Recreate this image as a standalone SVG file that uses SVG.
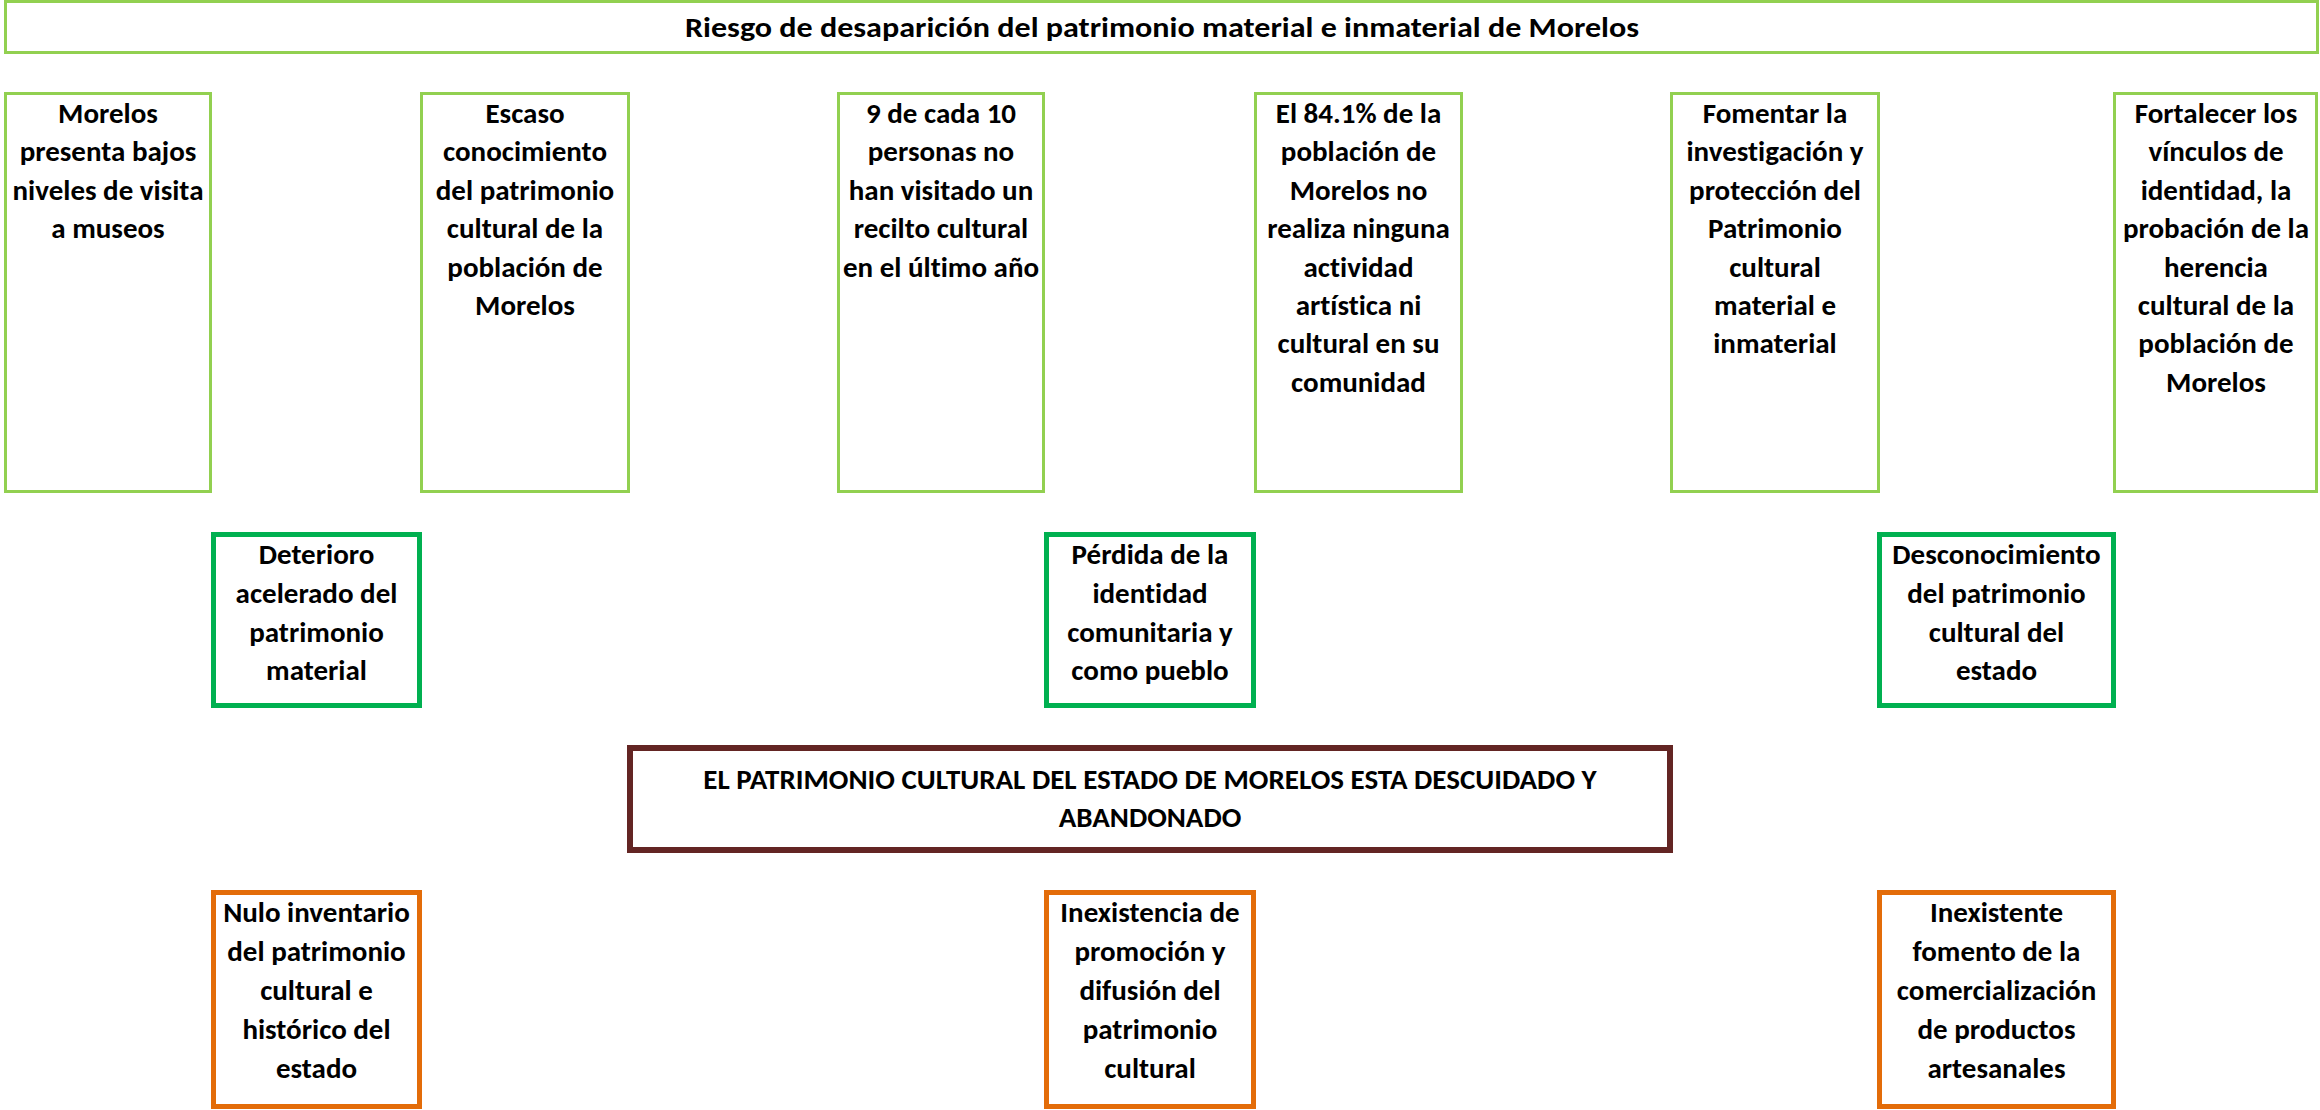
<svg xmlns="http://www.w3.org/2000/svg" width="2320" height="1110" viewBox="0 0 2320 1110">
<style>
text{font-family:"Carlito","Liberation Sans Narrow","Lato",sans-serif;font-weight:bold;font-size:29px;fill:#000;text-anchor:middle;font-variant-ligatures:none;font-feature-settings:"liga" 0,"clig" 0}
.lg{fill:#fff;stroke:#92D050;stroke-width:3}
.dg{fill:#fff;stroke:#00B050;stroke-width:5}
.rd{fill:#fff;stroke:#632523;stroke-width:6}
.or{fill:#fff;stroke:#E36C09;stroke-width:5}
</style>
<rect width="2320" height="1110" fill="#fff"/>
<g id="title">
<rect class="lg" x="5.5" y="1.5" width="2312" height="51"/>
<text x="1162" y="37" textLength="954" lengthAdjust="spacingAndGlyphs">Riesgo de desaparición del patrimonio material e inmaterial de Morelos</text>
</g>
<g id="t1">
<rect class="lg" x="5.5" y="93.5" width="205" height="398"/>
<text x="108" y="123">Morelos</text><text x="108" y="161.4">presenta bajos</text><text x="108" y="199.8">niveles de visita</text><text x="108" y="238.2">a museos</text>
</g>
<g id="t2">
<rect class="lg" x="421.5" y="93.5" width="207" height="398"/>
<text x="525" y="123">Escaso</text><text x="525" y="161.4">conocimiento</text><text x="525" y="199.8">del patrimonio</text><text x="525" y="238.2">cultural de la</text><text x="525" y="276.6">población de</text><text x="525" y="315">Morelos</text>
</g>
<g id="t3">
<rect class="lg" x="838.5" y="93.5" width="205" height="398"/>
<text x="941" y="123">9 de cada 10</text><text x="941" y="161.4">personas no</text><text x="941" y="199.8">han visitado un</text><text x="941" y="238.2">recilto cultural</text><text x="941" y="276.6">en el último año</text>
</g>
<g id="t4">
<rect class="lg" x="1255.5" y="93.5" width="206" height="398"/>
<text x="1358.5" y="123">El 84.1% de la</text><text x="1358.5" y="161.4">población de</text><text x="1358.5" y="199.8">Morelos no</text><text x="1358.5" y="238.2">realiza ninguna</text><text x="1358.5" y="276.6">actividad</text><text x="1358.5" y="315">artística ni</text><text x="1358.5" y="353.4">cultural en su</text><text x="1358.5" y="391.8">comunidad</text>
</g>
<g id="t5">
<rect class="lg" x="1671.5" y="93.5" width="207" height="398"/>
<text x="1775" y="123">Fomentar la</text><text x="1775" y="161.4">investigación y</text><text x="1775" y="199.8">protección del</text><text x="1775" y="238.2">Patrimonio</text><text x="1775" y="276.6">cultural</text><text x="1775" y="315">material e</text><text x="1775" y="353.4">inmaterial</text>
</g>
<g id="t6">
<rect class="lg" x="2114.5" y="93.5" width="202" height="398"/>
<text x="2216" y="123">Fortalecer los</text><text x="2216" y="161.4">vínculos de</text><text x="2216" y="199.8">identidad, la</text><text x="2216" y="238.2">probación de la</text><text x="2216" y="276.6">herencia</text><text x="2216" y="315">cultural de la</text><text x="2216" y="353.4">población de</text><text x="2216" y="391.8">Morelos</text>
</g>
<g id="m1">
<rect class="dg" x="213.5" y="534.5" width="206" height="171"/>
<text x="316.5" y="564">Deterioro</text><text x="316.5" y="602.8">acelerado del</text><text x="316.5" y="641.6">patrimonio</text><text x="316.5" y="680.4">material</text>
</g>
<g id="m2">
<rect class="dg" x="1046.5" y="534.5" width="207" height="171"/>
<text x="1150" y="564">Pérdida de la</text><text x="1150" y="602.8">identidad</text><text x="1150" y="641.6">comunitaria y</text><text x="1150" y="680.4">como pueblo</text>
</g>
<g id="m3">
<rect class="dg" x="1879.5" y="534.5" width="234" height="171"/>
<text x="1996.5" y="564">Desconocimiento</text><text x="1996.5" y="602.8">del patrimonio</text><text x="1996.5" y="641.6">cultural del</text><text x="1996.5" y="680.4">estado</text>
</g>
<g id="core">
<rect class="rd" x="630" y="748" width="1040" height="102"/>
<text x="1150" y="789">EL PATRIMONIO CULTURAL DEL ESTADO DE MORELOS ESTA DESCUIDADO Y</text><text x="1150" y="827">ABANDONADO</text>
</g>
<g id="b1">
<rect class="or" x="213.5" y="892.5" width="206" height="214"/>
<text x="316.5" y="922">Nulo inventario</text><text x="316.5" y="960.9">del patrimonio</text><text x="316.5" y="999.8">cultural e</text><text x="316.5" y="1038.7">histórico del</text><text x="316.5" y="1077.6">estado</text>
</g>
<g id="b2">
<rect class="or" x="1046.5" y="892.5" width="207" height="214"/>
<text x="1150" y="922">Inexistencia de</text><text x="1150" y="960.9">promoción y</text><text x="1150" y="999.8">difusión del</text><text x="1150" y="1038.7">patrimonio</text><text x="1150" y="1077.6">cultural</text>
</g>
<g id="b3">
<rect class="or" x="1879.5" y="892.5" width="234" height="214"/>
<text x="1996.5" y="922">Inexistente</text><text x="1996.5" y="960.9">fomento de la</text><text x="1996.5" y="999.8">comercialización</text><text x="1996.5" y="1038.7">de productos</text><text x="1996.5" y="1077.6">artesanales</text>
</g>
<g id="connectors"/>
</svg>
